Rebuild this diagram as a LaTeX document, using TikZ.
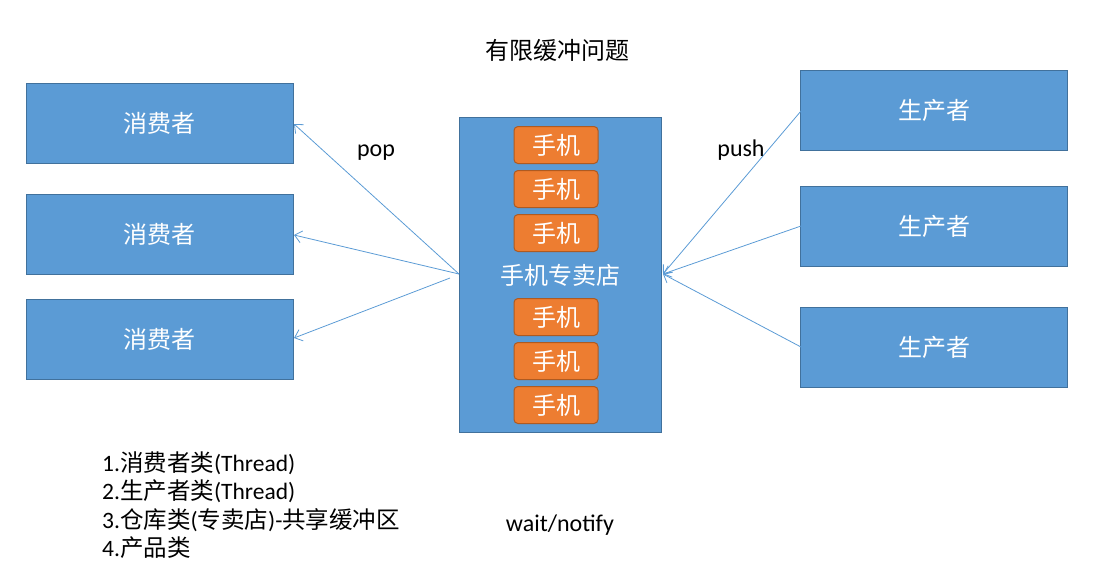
\documentclass[tikz,border=0pt]{standalone}
\usepackage{fontspec}
\setmainfont{Carlito}
\newfontfamily\cjk{Noto Sans CJK SC}
\usetikzlibrary{arrows.meta,calc}
\definecolor{boxblue}{HTML}{5B9BD5}
\definecolor{boxedge}{HTML}{41719C}
\definecolor{phoneor}{HTML}{ED7D31}
\definecolor{phoneedge}{HTML}{AE5A21}
\tikzset{
  bigbox/.style={draw=boxedge, fill=boxblue, line width=0.8pt, minimum width=267pt, minimum height=80pt, inner sep=0pt, text=white, font=\cjk\fontsize{24}{28}\selectfont},
  phone/.style={draw=phoneedge, fill=phoneor, line width=1pt, rounded corners=4pt, minimum width=84pt, minimum height=37pt, inner sep=0pt, text=white, font=\cjk\fontsize{24}{28}\selectfont},
  conn/.style={draw=boxblue, line width=0.8pt, -{Straight Barb[length=7pt,width=12pt]}},
  lbl/.style={font=\fontsize{24}{28}\selectfont, text=black, inner sep=0pt}
}
\begin{document}
\begin{tikzpicture}[x=1pt,y=-1pt]
\useasboundingbox (0,0) rectangle (1100,582);
\node[font=\cjk\fontsize{24}{28}\selectfont] (title) at (557,50) {有限缓冲问题};
% consumers
\node[bigbox] (c1) at (159.5,123) {消费者};
\node[bigbox] (c2) at (159.5,234.5) {消费者};
\node[bigbox] (c3) at (159.5,339) {消费者};
% producers
\node[bigbox] (p1) at (934,110) {生产者};
\node[bigbox] (p2) at (934,226) {生产者};
\node[bigbox] (p3) at (934,347.5) {生产者};
% store
\node[draw=boxedge, fill=boxblue, line width=0.8pt, minimum width=202pt, minimum height=315pt, inner sep=0pt] (s) at (560,274.5) {};
\node[text=white, font=\cjk\fontsize{24}{28}\selectfont, inner sep=0pt] (st) at (560,275) {手机专卖店};
\node[phone] (m1) at (556,145) {手机};
\node[phone] (m2) at (556,189) {手机};
\node[phone] (m3) at (556,233) {手机};
\node[phone] (m4) at (556,317) {手机};
\node[phone] (m5) at (556,361) {手机};
\node[phone] (m6) at (556,405) {手机};
% anchor coordinates
\coordinate (sl1) at (459,274);
\coordinate (sl3) at (450,278);
\coordinate (sr) at (663,274);
\coordinate (c1a) at (294,124);
\coordinate (c2a) at (294,235);
\coordinate (c3a) at (294,338);
\coordinate (p1a) at (801,111);
\coordinate (p2a) at (801,226);
\coordinate (p3a) at (801,347);
\draw[conn] (sl1) -- (c1a);
\draw[conn] (sl1) -- (c2a);
\draw[conn] (sl3) -- (c3a);
\draw[conn] (p1a) -- (sr);
\draw[conn] (p2a) -- (sr);
\draw[conn] (p3a) -- (sr);
% labels
\node[lbl] (pop) at (376,153) {pop};
\node[lbl] (push) at (741,150) {push};
\node[lbl] (wn) at (560,525) {wait/notify};
\node[lbl, anchor=west, align=left, font=\fontsize{23.5}{28.5}\selectfont] (list) at (102,505) {1.{\cjk 消费者类}(Thread)\\2.{\cjk 生产者类}(Thread)\\3.{\cjk 仓库类}({\cjk 专卖店})-{\cjk 共享缓冲区}\\4.{\cjk 产品类}};
\end{tikzpicture}
\end{document}
